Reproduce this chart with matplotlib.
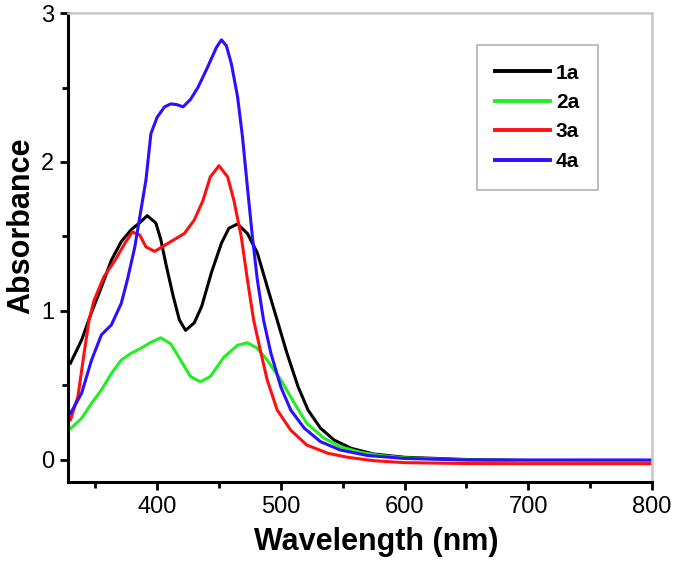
import numpy as np
import matplotlib.pyplot as plt
from matplotlib.ticker import MultipleLocator

plt.rcParams['font.family'] = ['Liberation Sans', 'DejaVu Sans']

# absorption spectra (wavelength nm, absorbance)
wl_1a = [330, 339, 347, 355, 363, 371, 379, 387, 392, 399, 403, 407, 413, 418, 423, 430,
         436, 444, 452, 458, 465, 473, 481, 489, 497, 505, 514, 522, 532, 543, 557,
         575, 600, 650, 700, 800]
abs_1a = [0.65, 0.805, 0.99, 1.16, 1.34, 1.465, 1.545, 1.60, 1.64, 1.59, 1.48, 1.32, 1.10, 0.94, 0.87, 0.92,
          1.03, 1.26, 1.455, 1.555, 1.584, 1.52, 1.39, 1.163, 0.94, 0.715, 0.49, 0.335, 0.214, 0.134, 0.078,
          0.04, 0.018, 0.003, -0.004, -0.006]

wl_2a = [330, 339, 347, 355, 363, 371, 379, 387, 395, 403, 411, 419, 427, 435, 443,
         454, 465, 473, 481, 489, 500, 511, 521, 535, 548, 565, 580, 600, 650, 700, 800]
abs_2a = [0.21, 0.28, 0.38, 0.47, 0.58, 0.67, 0.716, 0.75, 0.79, 0.82, 0.78, 0.67, 0.56, 0.525, 0.56,
          0.69, 0.77, 0.787, 0.75, 0.67, 0.537, 0.38, 0.246, 0.146, 0.089, 0.05, 0.03, 0.014, 0.0, -0.004, -0.006]

wl_3a = [330, 336, 341, 345, 349, 357, 366, 374, 380, 386, 391, 398, 406, 414, 422, 430, 437,
         443, 450, 457, 462, 468, 473, 478, 484, 489, 497, 508, 521, 538, 554,
         575, 600, 650, 700, 800]
abs_3a = [0.27, 0.425, 0.716, 0.94, 1.07, 1.23, 1.34, 1.455, 1.53, 1.51, 1.43, 1.40, 1.44, 1.48, 1.52, 1.61, 1.74,
          1.90, 1.975, 1.90, 1.745, 1.50, 1.21, 0.94, 0.716, 0.537, 0.336, 0.20, 0.10, 0.045, 0.018,
          -0.005, -0.018, -0.024, -0.025, -0.025]

wl_4a = [330, 339, 347, 355, 363, 371, 376, 382, 387, 391, 395, 400, 406, 411, 416, 421, 427,
         433, 441, 448, 452, 456, 460, 465, 469, 473, 477, 481, 486, 492, 500, 508, 519, 532, 548,
         570, 600, 650, 700, 800]
abs_4a = [0.313, 0.448, 0.67, 0.84, 0.906, 1.05, 1.21, 1.43, 1.68, 1.88, 2.19, 2.30, 2.37, 2.39, 2.385, 2.37, 2.42,
          2.50, 2.64, 2.77, 2.82, 2.78, 2.66, 2.44, 2.17, 1.83, 1.50, 1.21, 0.94, 0.716, 0.49, 0.335, 0.213, 0.123, 0.067,
          0.03, 0.01, 0.0, 0.0, 0.0]

labels = ['1a', '2a', '3a', '4a']
colors = ['#000000', '#22ee22', '#ff1010', '#2a10ff']

fig = plt.figure(figsize=(6.74, 5.61), dpi=100)
ax = fig.add_axes([0.1009, 0.1408, 0.8665, 0.836])

series = [(wl_1a, abs_1a), (wl_2a, abs_2a), (wl_3a, abs_3a), (wl_4a, abs_4a)]
for (x, y), lab, c in zip(series, labels, colors):
    ax.plot(x, y, color=c, lw=2.2, label=lab, solid_joinstyle='round')

ax.set_xlim(328, 800)
ax.set_ylim(-0.148, 3.0)
ax.xaxis.set_major_locator(MultipleLocator(100))
ax.xaxis.set_minor_locator(MultipleLocator(50))
ax.yaxis.set_major_locator(MultipleLocator(1))
ax.yaxis.set_minor_locator(MultipleLocator(0.5))

for side in ['left', 'bottom']:
    ax.spines[side].set_linewidth(2.2)
for side in ['top', 'right']:
    ax.spines[side].set_linewidth(1.8)
    ax.spines[side].set_color('#c8c8c8')

ax.tick_params(which='major', direction='out', length=6, width=2, labelsize=17, pad=4)
ax.tick_params(which='minor', direction='out', length=4, width=2)

ax.set_xlabel('Wavelength (nm)', fontsize=22, fontweight='bold')
ax.set_ylabel('Absorbance', fontsize=22, fontweight='bold')
ax.xaxis.set_label_coords(0.527, -0.096)
ax.yaxis.set_label_coords(-0.055, 0.546)

leg = ax.legend(loc='upper right', bbox_to_anchor=(0.9075, 0.932), borderaxespad=0,
                fancybox=False, frameon=True, handlelength=2.6, handletextpad=0.3,
                labelspacing=0.5, borderpad=0.9,
                prop={'weight': 'bold', 'size': 15})
leg.get_frame().set_edgecolor('#a0a0a0')
leg.get_frame().set_linewidth(1.2)
for line in leg.get_lines():
    line.set_linewidth(2.8)

fig.savefig('out.png', dpi=100)
